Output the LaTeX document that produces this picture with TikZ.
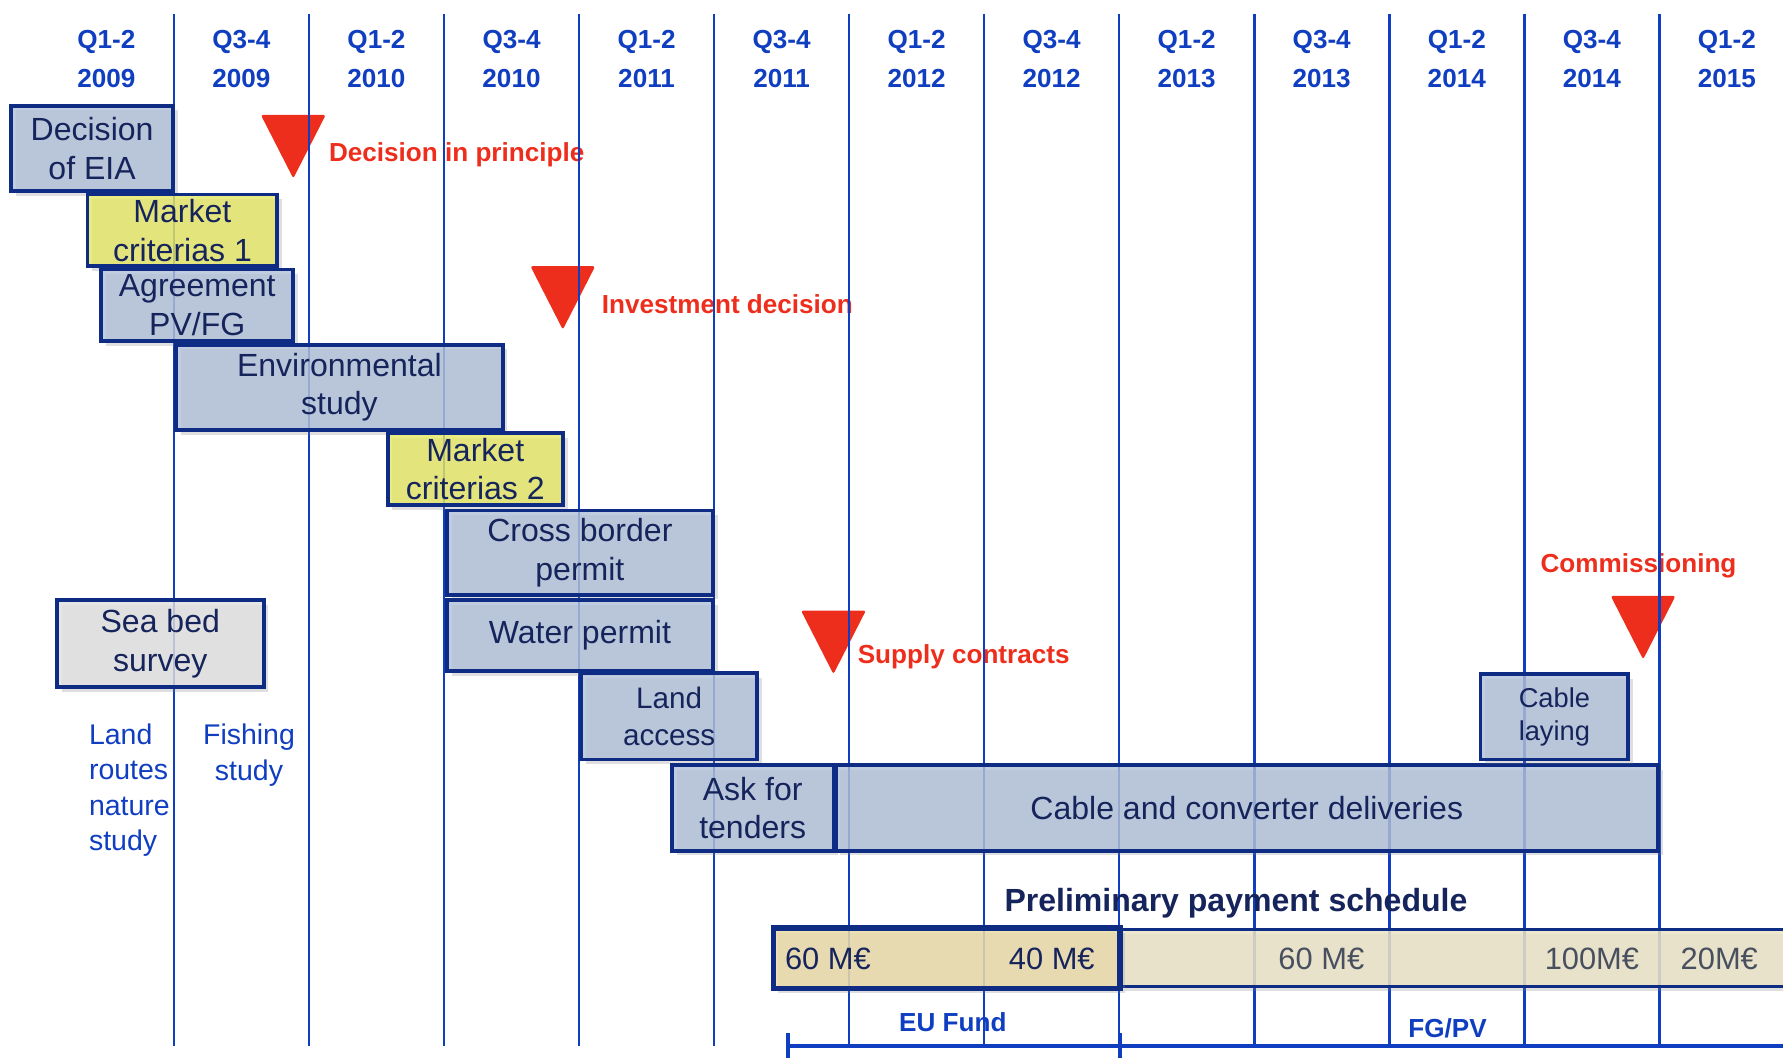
\documentclass[tikz,border=0pt]{standalone}
\usepackage{fontspec}
\setmainfont{Liberation Sans}
\usetikzlibrary{positioning, fit, shadows}

\definecolor{lineblue}{RGB}{16,62,192}
\definecolor{navy}{RGB}{14,44,132}
\definecolor{tasktext}{RGB}{22,36,92}
\definecolor{taskfill}{RGB}{176,192,218}
\definecolor{taskyellow}{RGB}{228,230,100}
\definecolor{taskgrey}{RGB}{224,224,224}
\definecolor{milered}{RGB}{238,46,28}
\definecolor{paytan}{RGB}{234,218,168}
\definecolor{paylight}{RGB}{233,227,198}
\definecolor{paygrey}{RGB}{72,80,96}

\begin{document}
\begin{tikzpicture}[
    x=2cm, y=2cm,
    qline/.style={draw=lineblue, line width=1.1pt},
    period/.style={text=lineblue, align=center, font=\bfseries\fontsize{11}{16.3}\selectfont},
    task/.style={rectangle, draw=navy, line width=1.6pt, fill=taskfill, fill opacity=0.8, text opacity=1, text=tasktext, inner sep=0pt, align=center, font=\fontsize{13.5}{16.3}\selectfont, drop shadow={opacity=0.25, shadow xshift=2pt, shadow yshift=-2pt}},
    market/.style={task, fill=taskyellow},
    survey/.style={task, fill=taskgrey},
    milestone/.style={fill=milered, rounded corners=1pt},
    event/.style={text=milered, font=\bfseries\fontsize{11}{13}\selectfont, inner sep=0pt},
    study/.style={text=lineblue, font=\fontsize{12}{15}\selectfont, inner sep=0pt},
    pay/.style={rectangle, draw=navy, inner sep=0pt, fill opacity=0.85, drop shadow={opacity=0.25, shadow xshift=2pt, shadow yshift=-2pt}},
    amount/.style={font=\fontsize{13}{15}\selectfont, inner sep=0pt},
]

\useasboundingbox (-1.288,0) rectangle (11.916,-7.832);

% Milestones
\foreach \x/\y in {0.884/-0.851, 2.880/-1.971, 4.884/-4.522, 10.880/-4.413}
    \fill[milestone] (\x-0.24,\y) -- (\x+0.24,\y) -- (\x,\y-0.47) -- cycle;

\node[event, anchor=west] (principle) at (1.145,-1.145) {Decision in principle};
\node[event, anchor=west] (investment) at (3.166,-2.25) {Investment decision};
\node[event, anchor=west] (supply) at (5.061,-4.867) {Supply contracts};
\node[event] (commission) at (10.846,-4.193) {Commissioning};

% Time axis
\foreach \k in {0,...,12} {
    \pgfmathtruncatemacro{\yr}{2009+div(\k,2)}
    \ifodd\k \def\half{Q3-4}\else \def\half{Q1-2}\fi
    \node[period] (head\k) at (\k-0.5,-0.437) {\half\\\yr};
}
\foreach \i in {0,...,11}
    \draw[qline] (\i,-0.101) -- (\i,-7.747);

% Tasks
\node[task, minimum width=2.392cm, minimum height=1.264cm] (eia) at (-0.606,-1.099) {Decision\\of EIA};
\node[market, minimum width=2.812cm, minimum height=1.06cm] (market1) at (0.063,-1.705) {Market\\criterias 1};
\node[task, minimum width=2.846cm, minimum height=1.06cm] (agreement) at (0.1725,-2.261) {Agreement\\PV/FG};
\node[task, minimum width=4.834cm, minimum height=1.262cm] (envstudy) at (1.2255,-2.8675) {Environmental\\study};
\node[market, minimum width=2.594cm, minimum height=1.062cm] (market2) at (2.2315,-3.4735) {Market\\criterias 2};
\node[task, minimum width=3.942cm, minimum height=1.246cm] (crossborder) at (3.0065,-4.0925) {Cross border\\permit};
\node[task, minimum width=3.942cm, minimum height=1.044cm] (water) at (3.0065,-4.707) {Water permit};
\node[survey, minimum width=3.064cm, minimum height=1.28cm] (seabed) at (-0.101,-4.766) {Sea bed\\survey};
\node[task, font=\fontsize{12.5}{15.5}\selectfont, minimum width=2.61cm, minimum height=1.28cm] (landaccess) at (3.6675,-5.305) {Land\\access};
\node[task, minimum width=2.392cm, minimum height=1.264cm] (tenders) at (4.286,-5.983) {Ask for\\tenders};
\node[task, minimum width=12.176cm, minimum height=1.264cm] (deliveries) at (7.945,-5.983) {Cable and converter deliveries};
\node[task, font=\fontsize{11.5}{14}\selectfont, minimum width=2.188cm, minimum height=1.262cm] (laying) at (10.223,-5.3095) {Cable\\laying};

\node[study, anchor=west, align=left] (landroutes) at (-0.632,-5.852) {Land\\routes\\nature\\study};
\node[study, align=center] (fishing) at (0.556,-5.594) {Fishing\\study};

% Payments
\node[pay, fill=paylight, line width=1.4pt, fit={(7.006,-6.885) (12.3,-7.305)}] (payrest) {};
\node[pay, fill=paytan, line width=2.2pt, fit={(4.438,-6.872) (7.006,-7.318)}] (payeu) {};
\node[text=tasktext, font=\bfseries\fontsize{13.5}{16}\selectfont] (schedule) at (7.865,-6.685) {Preliminary payment schedule};
\node[amount, text=tasktext, anchor=west] (pay1) at (4.522,-7.1) {60 M€};
\node[amount, text=tasktext] (pay2) at (6.501,-7.1) {40 M€};
\node[amount, text=paygrey] (pay3) at (8.497,-7.1) {60 M€};
\node[amount, text=paygrey] (pay4) at (10.501,-7.1) {100M€};
\node[amount, text=paygrey] (pay5) at (11.444,-7.1) {20M€};

\node[period] (eufund) at (5.768,-7.57) {EU Fund};
\node[period] (fgpv) at (9.432,-7.612) {FG/PV};

\coordinate (fundstart) at (4.547,-7.747);
\coordinate (fundsplit) at (7.006,-7.747);
\coordinate (fundend) at (12,-7.747);
\draw[qline, line width=1.6pt] (fundstart) -- (fundend);
\draw[qline, line width=1.6pt] ([yshift=1.9mm]fundstart) -- ([yshift=-1.9mm]fundstart);
\draw[qline, line width=1.6pt] ([yshift=1.9mm]fundsplit) -- ([yshift=-1.9mm]fundsplit);

\end{tikzpicture}
\end{document}
